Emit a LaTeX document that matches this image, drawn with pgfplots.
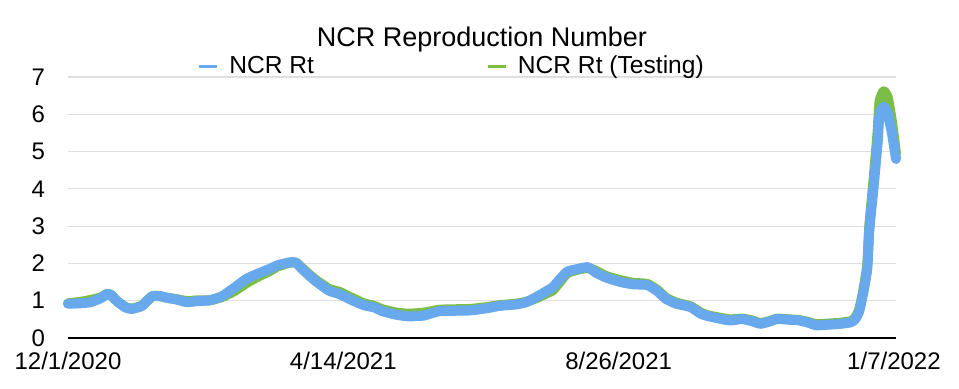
\documentclass[border=0pt]{standalone}
\usepackage{pgfplots}
\pgfplotsset{compat=1.18}
\usepackage{pgfplotstable}
\usepackage{fontspec}
\setmainfont{Liberation Sans}
\definecolor{rtblue}{RGB}{104,168,236}
\definecolor{rtgreen}{RGB}{122,190,72}

\pgfplotstableread{
day val
0 0.92
6 0.93
11 0.96
16 1.07
19 1.18
21 1.15
24 0.98
28 0.82
31 0.78
36 0.86
41 1.12
45 1.12
48 1.08
53 1.03
58 0.96
63 0.99
69 1.01
75 1.12
81 1.35
87 1.59
93 1.74
98 1.85
102 1.95
108 2.03
111 2.02
114 1.85
120 1.55
127 1.27
132 1.18
138 1.02
144 0.88
149 0.82
153 0.72
160 0.62
166 0.58
173 0.60
178 0.68
181 0.72
188 0.73
196 0.74
204 0.80
210 0.86
218 0.90
223 0.96
228 1.10
233 1.26
236 1.36
239 1.55
243 1.78
248 1.85
253 1.90
257 1.75
262 1.62
269 1.50
275 1.44
282 1.42
287 1.25
291 1.05
296 0.92
303 0.83
308 0.65
312 0.58
322 0.47
328 0.51
333 0.45
337 0.38
342 0.45
345 0.51
351 0.49
356 0.47
361 0.40
364 0.34
371 0.36
376 0.38
381 0.42
383 0.50
385 0.70
387 1.20
389 1.85
390 2.90
392 4.00
394 5.20
395 6.00
397 6.20
399 6.00
401 5.50
403 4.80
}\blueRt

\pgfplotstableread{
day val
0 0.93
6 0.97
11 1.02
16 1.09
19 1.18
21 1.15
24 0.98
28 0.83
31 0.79
36 0.87
41 1.12
45 1.12
48 1.08
53 1.04
58 0.99
63 1.01
69 1.01
75 1.10
81 1.26
87 1.48
93 1.66
98 1.79
102 1.92
108 2.02
111 2.02
114 1.87
120 1.58
127 1.32
132 1.24
138 1.08
144 0.93
149 0.86
153 0.77
160 0.68
166 0.65
173 0.68
178 0.73
181 0.76
188 0.77
196 0.78
204 0.83
210 0.88
218 0.92
223 0.97
228 1.07
233 1.20
236 1.28
239 1.48
243 1.74
248 1.83
253 1.88
257 1.80
262 1.66
269 1.55
275 1.48
282 1.45
287 1.28
291 1.08
296 0.95
303 0.85
308 0.68
312 0.60
322 0.50
328 0.52
333 0.47
337 0.40
342 0.46
345 0.52
351 0.50
356 0.48
361 0.42
364 0.37
371 0.39
376 0.41
381 0.45
383 0.53
385 0.75
387 1.25
389 1.95
390 3.00
392 4.20
394 5.50
395 6.35
397 6.62
399 6.45
401 5.80
403 4.95
}\greenRt

\begin{document}
\begin{tikzpicture}
\begin{axis}[
  name=ax,
  scale only axis,
  width=414pt, height=130.5pt,
  xmin=0, xmax=403,
  ymin=0, ymax=7,
  xtick={0,134,268,402},
  xticklabels={12/1/2020,4/14/2021,8/26/2021,1/7/2022},
  ytick={0,1,2,3,4,5,6,7},
  /pgf/number format/assume math mode=true,
  ymajorgrids,
  grid style={gray!25, line width=0.6pt},
  axis line style={draw=none},
  major tick length=0pt,
  tick label style={font=\fontsize{12}{14}\selectfont},
  xticklabel style={yshift=-3.5pt},
  yticklabel style={xshift=-8pt},
  title={NCR Reproduction Number},
  title style={font=\fontsize{13.5}{16}\selectfont, at={(0.5,1)}, anchor=center, yshift=12.5pt},
  legend columns=2,
  legend style={at={(0.156,1.04)}, anchor=west, draw=none, fill=none, inner sep=0pt,
    font=\fontsize{12.3}{14}\selectfont, /tikz/every even column/.append style={column sep=84pt}},
  legend image code/.code={\draw[#1, line width=1.8pt] (0pt,0pt) -- (9pt,0pt); \path[draw=none,fill=none] (13pt,0pt) circle (0pt);},
  clip=false,
  after end axis/.code={\draw[black, line width=1.1pt] (rel axis cs:0,0) -- (rel axis cs:1,0);},
]
\addlegendimage{rtblue}
\addlegendentry{NCR Rt}
\addlegendimage{rtgreen}
\addlegendentry{NCR Rt (Testing)}
\addplot[rtgreen, line width=5pt, line join=round, line cap=round, smooth, tension=0.3, forget plot] table[x=day,y=val] {\greenRt};
\addplot[rtblue, line width=5pt, line join=round, line cap=round, smooth, tension=0.3, forget plot] table[x=day,y=val] {\blueRt};
\end{axis}
\path ([shift={(-34pt,-25.5pt)}]ax.south west) rectangle ([shift={(31.5pt,38.5pt)}]ax.north east);
\end{tikzpicture}
\end{document}
